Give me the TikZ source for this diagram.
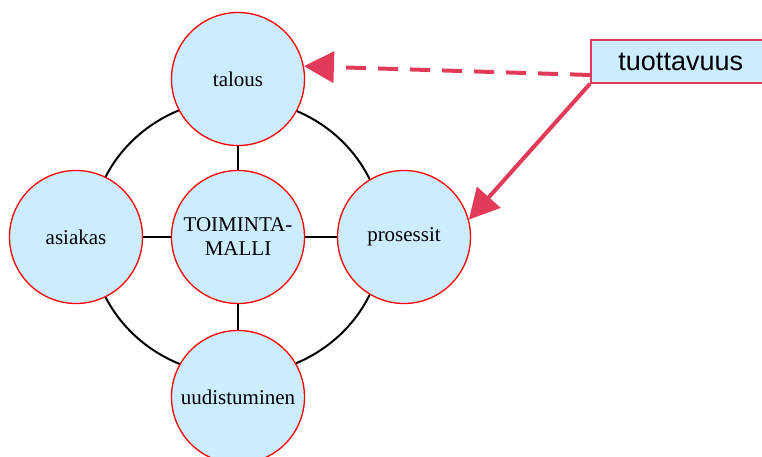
\documentclass[tikz,border=0pt]{standalone}
\usepackage{fontspec}
\setmainfont{Liberation Serif}
\newfontfamily\boxfont{Liberation Sans}
\usetikzlibrary{arrows.meta}
\definecolor{bubble}{RGB}{204,236,255}
\definecolor{rim}{RGB}{255,0,0}
\definecolor{accent}{RGB}{226,59,90}

\begin{document}
\begin{tikzpicture}[x=1pt,y=-1pt,
  area/.style={circle, draw=rim, line width=1.3pt, fill=bubble,
    minimum size=133pt, inner sep=0pt, align=center,
    font=\fontsize{21}{24}\selectfont},
  link/.style={line width=2.5pt, black},
  pointer/.style={draw=accent, line width=4pt,
    -{Triangle[length=30pt,width=31pt]}},
  label box/.style={draw=accent, line width=1.5pt, fill=bubble,
    minimum width=180pt, minimum height=43pt, inner sep=0pt,
    font=\boxfont\fontsize{27}{32}\selectfont}]
\useasboundingbox (0,0) rectangle (762,457);

% ring joining the four outer areas
\coordinate (hub) at (237,237);
\draw[line width=2pt] (hub) ellipse [x radius=146, y radius=138];

% the areas
\node[area] (malli) at (238,237) {TOIMINTA-\\MALLI};
\node[area] (talous) at (238,79) {talous};
\node[area] (asiakas) at (76,237) {asiakas};
\node[area] (prosessit) at (404,237) {prosessit};
\node[area] (uudistuminen) at (238,397) {uudistuminen};

% spokes from the centre
\draw[link] (malli) -- (talous);
\draw[link] (malli) -- (asiakas);
\draw[link] (malli) -- (prosessit);
\draw[link] (malli) -- (uudistuminen);

% productivity label and its arrows
\node[label box, anchor=west] (box) at (590,61.5) {tuottavuus};
\coordinate (dashstart) at ([yshift=-13.5pt]box.west);
\draw[pointer, dash pattern=on 20pt off 12pt] (dashstart) -- (talous.11.5);
\draw[pointer] (box.south west) -- (prosessit.15);
\end{tikzpicture}
\end{document}
